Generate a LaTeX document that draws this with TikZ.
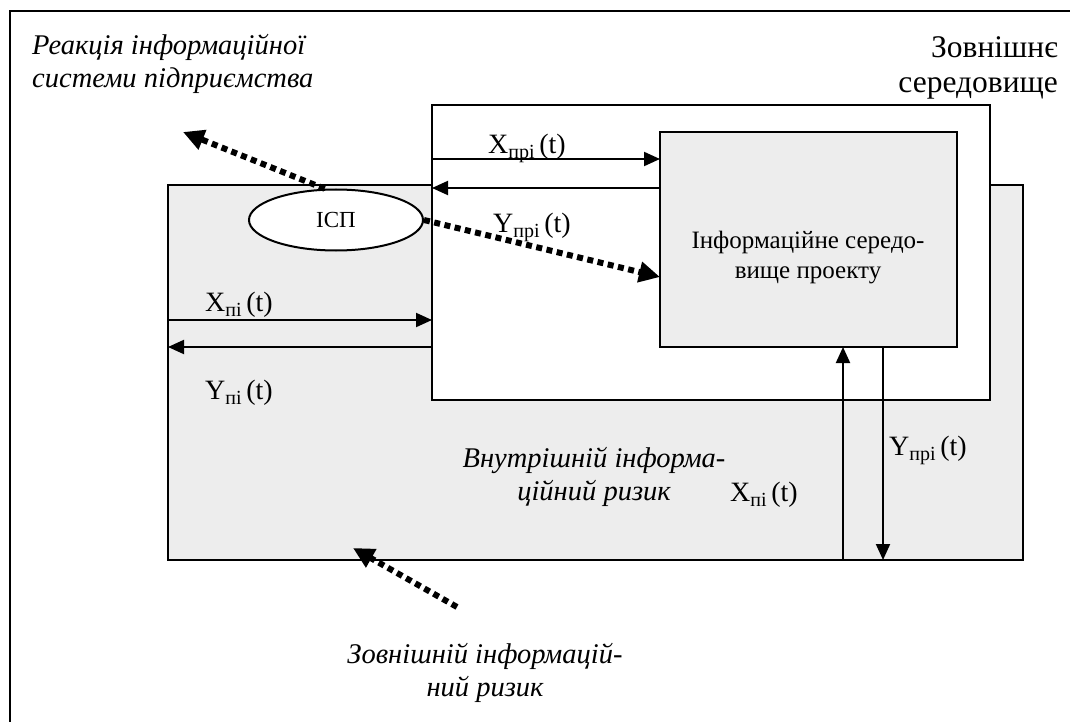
\documentclass[tikz,border=0pt]{standalone}
\usepackage{fontspec}
\setmainfont{Liberation Serif}
\usetikzlibrary{arrows.meta,shapes.geometric}
\definecolor{boxgray}{HTML}{EDEDED}
\tikzset{
  frameline/.style={draw=black, line width=2pt},
  boxnode/.style={draw=black, line width=2pt, inner sep=0pt, outer sep=0pt, rectangle, anchor=north west},
  arr/.style={line width=2pt, -{Triangle[length=16pt,width=14pt]}},
  dotarr/.style={line width=6pt, dash pattern=on 6pt off 4.5pt, -{Triangle[length=21pt,width=20pt]}},
  lbl/.style={inner sep=0pt, font=\fontsize{28}{30}\selectfont},
  itxt/.style={inner sep=0pt, align=center, font=\fontsize{28.5}{33}\selectfont\itshape},
}
\newcommand{\sig}[2]{#1\raisebox{-5pt}{\fontsize{20}{20}\selectfont #2}\,(t)}
\begin{document}
\begin{tikzpicture}[x=1pt,y=-1pt]
\useasboundingbox (0,0) rectangle (1070,722);
\fill[white] (0,0) rectangle (1070,722);
% outer frame (only left and top visible)
\coordinate (fbl) at (10,722);
\coordinate (ftl) at (10,11);
\coordinate (ftr) at (1070,11);
\draw[frameline] (fbl) -- (ftl) -- (ftr);
% boxes
\node[boxnode, fill=boxgray, minimum width=855pt, minimum height=375pt] (gray) at (168,185) {};
\node[boxnode, fill=white, minimum width=558pt, minimum height=295pt] (white) at (432,105) {};
\node[boxnode, fill=boxgray, minimum width=297pt, minimum height=215pt] (inner) at (660,132) {};
\node[inner sep=0pt, font=\fontsize{25}{30}\selectfont, align=center] (innertxt) at (808,258) {Інформаційне середо-\\вище проекту};
% ellipse
\node[ellipse, draw=black, line width=2pt, fill=white, inner sep=0pt, minimum width=174pt, minimum height=61pt, font=\fontsize{23}{24}\selectfont] (isp) at (336,220) {ІСП};
% helper coordinates
\coordinate (yXpri) at (0,159);
\coordinate (yYpri) at (0,188);
\coordinate (yXpi) at (0,320);
\coordinate (yYpi) at (0,347);
\coordinate (xUp) at (843,0);
\coordinate (xDown) at (883,0);
\coordinate (yDot) at (0,277);
% solid arrows
\draw[arr] (white.west |- yXpri) -- (inner.west |- yXpri);
\draw[arr] (inner.west |- yYpri) -- (white.west |- yYpri);
\draw[arr] (gray.west |- yXpi) -- (white.west |- yXpi);
\draw[arr] (white.west |- yYpi) -- (gray.west |- yYpi);
\draw[arr] (gray.south -| xUp) -- (inner.south -| xUp);
\draw[arr] (inner.south -| xDown) -- (gray.south -| xDown);
% dotted arrows
\coordinate (r1) at (183,132);
\coordinate (r3s) at (457,607);
\coordinate (r3e) at (353,548);
\draw[dotarr] (isp.110) -- (r1);
\draw[dotarr] (isp.east) -- (inner.west |- yDot);
\draw[dotarr] (r3s) -- (r3e);
% signal labels
\node[lbl] (lxpri) at (527,148) {\sig{X}{прі}};
\node[lbl] (lypri) at (532,227) {\sig{Y}{прі}};
\node[lbl] (lxpi) at (239,305) {\sig{X}{пі}};
\node[lbl] (lypi) at (239,393) {\sig{Y}{пі}};
\node[lbl] (lypri2) at (928,450) {\sig{Y}{прі}};
\node[lbl] (lxpi2) at (764,495) {\sig{X}{пі}};
% texts
\node[itxt, align=left, anchor=west] (react) at (32,64) {Реакція інформаційної\\системи підприємства};
\node[inner sep=0pt, align=right, anchor=east, font=\fontsize{31.5}{35}\selectfont] (ext) at (1058,68) {Зовнішнє\\середовище};
\node[itxt] (intrisk) at (594,477) {Внутрішній інформа-\\ційний ризик};
\node[itxt] (extrisk) at (485,673) {Зовнішній інформацій-\\ний ризик};
\end{tikzpicture}
\end{document}
